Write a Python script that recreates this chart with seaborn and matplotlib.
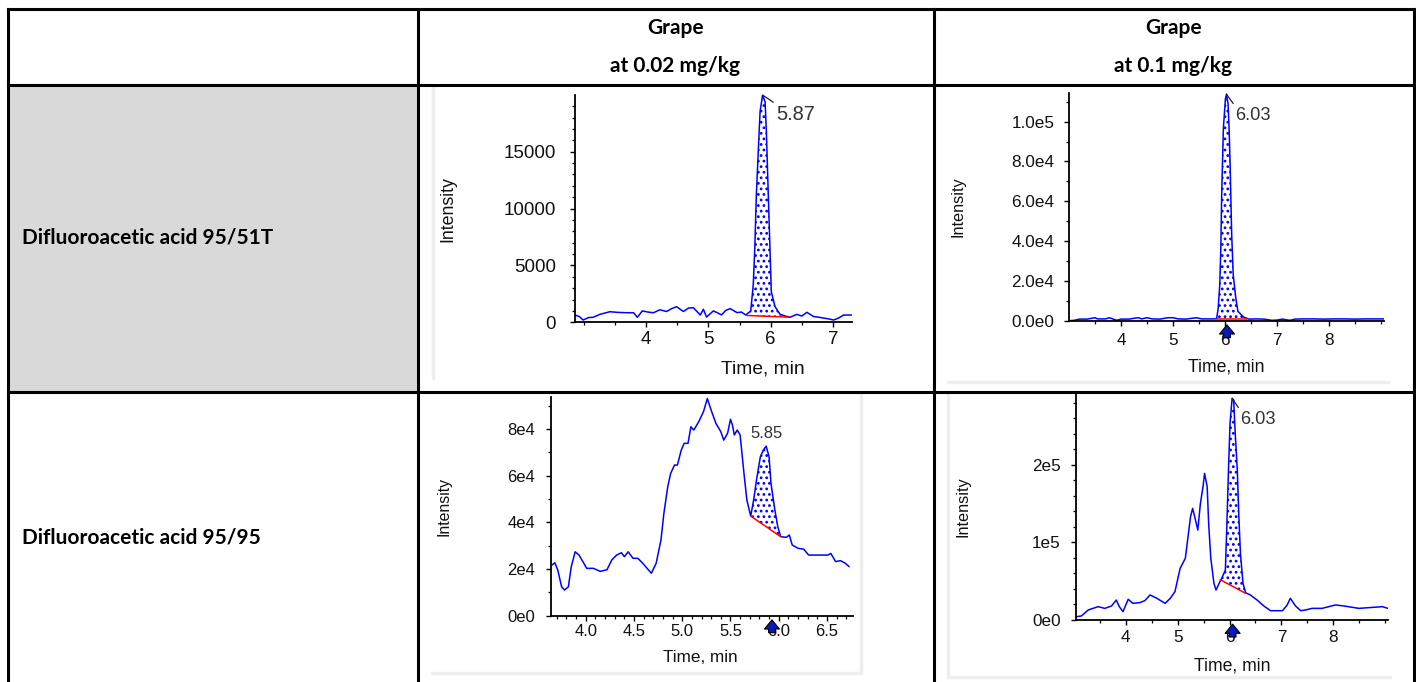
import numpy as np
import pandas as pd
import matplotlib
matplotlib.use("Agg")
import matplotlib.pyplot as plt
import seaborn as sns
from matplotlib.patches import Rectangle
from matplotlib.ticker import MultipleLocator, FixedLocator, FuncFormatter

# ---- table text ----
col_titles = ["Grape\nat 0.02 mg/kg", "Grape\nat 0.1 mg/kg"]
row_titles = ["Difluoroacetic acid 95/51T", "Difluoroacetic acid 95/95"]

# ---- 95/51T at 0.02 mg/kg ----
a_time = [2.86, 2.93, 2.99, 3.08, 3.15, 3.26, 3.42, 3.55, 3.70, 3.80, 3.86, 3.94, 4.03, 4.12, 4.22,
          4.33, 4.41, 4.49, 4.60, 4.68, 4.76, 4.87, 4.92, 4.97, 5.08, 5.14, 5.21, 5.28, 5.35, 5.46,
          5.53, 5.60, 5.68, 5.72, 5.745, 5.77, 5.81, 5.83, 5.87, 5.91, 5.93, 5.96, 5.99, 6.01, 6.07,
          6.15, 6.23, 6.31, 6.42, 6.50, 6.58, 6.69, 6.77, 6.85, 6.93, 7.01, 7.09, 7.17, 7.30]
a_int = [640, 500, 200, 420, 440, 700, 930, 870, 840, 840, 440, 1000, 900, 840, 1100,
         950, 1200, 1370, 950, 1250, 1280, 640, 1150, 460, 1000, 850, 650, 1050, 1200, 850,
         900, 640, 1000, 3280, 6500, 11200, 16180, 18540, 19990, 19400, 16900, 11490, 6200, 2690, 1370,
         700, 560, 440, 700, 550, 880, 500, 450, 370, 300, 200, 380, 640, 640]
a_base = ([5.62, 6.30], [600, 450])
a_rt = 5.87

# ---- 95/51T at 0.1 mg/kg ----
b_time = [3.01, 3.10, 3.20, 3.35, 3.50, 3.55, 3.70, 3.78, 3.85, 3.92, 4.00, 4.15, 4.33, 4.40, 4.50,
          4.60, 4.75, 4.90, 5.00, 5.10, 5.25, 5.45, 5.55, 5.70, 5.80, 5.84, 5.87, 5.90, 5.92, 5.94,
          5.97, 6.01, 6.03, 6.06, 6.08, 6.10, 6.13, 6.16, 6.21, 6.25, 6.36, 6.46, 6.60, 6.75, 6.90,
          7.00, 7.10, 7.25, 7.35, 7.50, 7.70, 7.90, 8.10, 8.30, 8.50, 8.70, 8.90, 9.06]
b_int = [0, 200, 800, 800, 1500, 900, 900, 1500, 800, 200, 800, 800, 1500, 900, 1500,
         900, 800, 1500, 1500, 900, 800, 1500, 900, 900, 900, 1000, 6200, 17900, 35500, 66500,
         96700, 111700, 113800, 109000, 96700, 78200, 43000, 23000, 11200, 4700, 1800, 800, 900, 800, 200,
         300, 800, 200, 800, 900, 900, 800, 900, 900, 800, 900, 900, 900]
b_base = ([5.84, 6.42], [800, 800])
b_rt = 6.03

# ---- 95/95 at 0.02 mg/kg ----
c_time = [3.65, 3.68, 3.71, 3.75, 3.78, 3.82, 3.85, 3.89, 3.93, 3.97, 4.01, 4.08, 4.15, 4.22, 4.27,
          4.32, 4.37, 4.40, 4.44, 4.49, 4.54, 4.59, 4.68, 4.73, 4.78, 4.81, 4.85, 4.88, 4.92, 4.95,
          4.99, 5.02, 5.06, 5.09, 5.12, 5.17, 5.22, 5.26, 5.30, 5.35, 5.40, 5.43, 5.47, 5.50, 5.52,
          5.54, 5.57, 5.60, 5.64, 5.67, 5.71, 5.74, 5.77, 5.81, 5.84, 5.87, 5.90, 5.92, 5.96, 5.99,
          6.02, 6.08, 6.11, 6.14, 6.20, 6.26, 6.31, 6.40, 6.51, 6.54, 6.59, 6.64, 6.69, 6.73]
c_int = [21700, 22700, 19600, 12400, 11000, 12400, 21000, 27400, 26000, 23200, 20300, 20300, 19000, 19700, 23900,
         26000, 27000, 25300, 27400, 24600, 24600, 22500, 18200, 22500, 32500, 43900, 55300, 61000, 64600, 64600,
         71000, 73900, 73900, 81000, 79600, 83100, 87400, 93100, 88100, 82400, 78900, 75300, 78200, 84200, 81800,
         77500, 79600, 77500, 61000, 49600, 42700, 49600, 58200, 68200, 71000, 72700, 68200, 56800, 45400, 38200,
         33900, 33600, 34600, 30300, 28900, 28500, 26000, 26000, 26000, 26700, 23200, 23600, 22500, 21000]
c_base = ([5.71, 6.02], [42700, 33900])
c_rt = 5.85

# ---- 95/95 at 0.1 mg/kg ----
d_time = [3.06, 3.15, 3.28, 3.47, 3.60, 3.73, 3.82, 3.88, 3.95, 4.05, 4.14, 4.27, 4.37, 4.47, 4.60,
          4.76, 4.86, 4.95, 5.05, 5.15, 5.25, 5.29, 5.33, 5.39, 5.44, 5.49, 5.52, 5.57, 5.60, 5.64,
          5.70, 5.74, 5.80, 5.85, 5.92, 5.95, 5.98, 6.01, 6.05, 6.08, 6.11, 6.15, 6.18, 6.21, 6.26,
          6.31, 6.40, 6.53, 6.66, 6.79, 7.02, 7.11, 7.17, 7.27, 7.37, 7.46, 7.59, 7.78, 8.04, 8.20,
          8.49, 8.94, 9.05]
d_int = [4300, 5200, 12900, 17200, 15000, 18100, 25800, 17200, 10800, 26700, 21500, 22400, 24900, 32300, 28000,
         21500, 28000, 36600, 66700, 79600, 133300, 144000, 133300, 116100, 150500, 172000, 189200, 172000, 122500, 79600,
         47300, 38700, 47300, 53800, 64500, 124700, 193500, 253800, 286000, 283800, 240800, 193500, 133300, 86000, 47300,
         35200, 32300, 25800, 18100, 12000, 12000, 19400, 28000, 18100, 12000, 12900, 15000, 15000, 19400, 18100,
         15000, 17200, 15000]
d_base = ([5.82, 6.31], [52000, 34400])
d_rt = 6.03

sns.set_theme(style="ticks")
plt.rcParams["font.family"] = ["Liberation Sans", "DejaVu Sans"]
plt.rcParams["hatch.linewidth"] = 1.2

W, H = 1416, 682
fig = plt.figure(figsize=(W / 100, H / 100), dpi=100)

# table drawn in pixel coordinates
bg = fig.add_axes([0, 0, 1, 1], zorder=-5)
bg.set_xlim(0, W)
bg.set_ylim(H, 0)
bg.axis("off")
bg.add_patch(Rectangle((9, 85.5), 408, 305, color="#d9d9d9", lw=0))
# faint frames of the pasted chromatogram pictures
frame_kw = dict(color="#eeeeee", lw=2.5)
bg.plot([433, 433], [86, 378], **frame_kw)
bg.plot([948, 1388], [382, 382], **frame_kw)
bg.plot([432, 861, 861], [673, 673, 392], **frame_kw)
bg.plot([948, 948, 1390], [392, 677, 677], **frame_kw)
line_kw = dict(color="black", lw=2.2, solid_capstyle="projecting")
for yy in [9, 84.5, 391.5]:
    bg.plot([8, 1414], [yy, yy], **line_kw)
for xx in [8, 417.5, 933.5, 1414]:
    bg.plot([xx, xx], [9, 682], **line_kw)

tfont = dict(family=["Lato", "DejaVu Sans"], fontweight="bold", fontsize=15, color="black")
for cx, title in zip([675.5, 1173.5], col_titles):
    top, bottom = title.split("\n")
    bg.text(cx, 28, top, ha="center", va="center", **tfont)
    bg.text(cx, 66, bottom, ha="center", va="center", **tfont)
for cy, title in zip([238, 537], row_titles):
    bg.text(22, cy, title, ha="left", va="center", **tfont)


def sci_fmt(digits):
    def f(v, pos):
        if v == 0:
            mant, ex = 0.0, 0
        else:
            ex = int(np.floor(np.log10(abs(v)) + 1e-9))
            mant = v / 10 ** ex
        return f"{mant:.{digits}f}e{ex}"
    return FuncFormatter(f)


panels = [
    dict(t=a_time, v=a_int, base=a_base, rt=a_rt, box=(575, 95, 851.7, 322.3),
         xlim=(2.86, 7.30), ylim=(0, 19990), xmaj=[4, 5, 6, 7], xmin=0.5, ymaj=[0, 5000, 10000, 15000],
         ymin=1000, yfmt=FuncFormatter(lambda v, p: f"{v:.0f}"), xfmt=FuncFormatter(lambda v, p: f"{v:.0f}"),
         fs=13.5, ylab=(-0.43, 0.5), xlab=(0.679, -0.166), ypad=10, xpad=2.5,
         lab_off=(14, -19), leader=True, arrow=None),
    dict(t=b_time, v=b_int, base=b_base, rt=b_rt, box=(1069.3, 93, 1384, 320.7),
         xlim=(3.006, 9.06), ylim=(0, 114400), xmaj=[4, 5, 6, 7, 8], xmin=0.5,
         ymaj=[0, 20000, 40000, 60000, 80000, 100000], ymin=10000, yfmt=sci_fmt(1),
         xfmt=FuncFormatter(lambda v, p: f"{v:.0f}"),
         fs=12.3, ylab=(-0.331, 0.5), xlab=(0.5, -0.164), ypad=7.2, xpad=5.0,
         lab_off=(9, -21), leader=True, arrow=6.04),
    dict(t=c_time, v=c_int, base=c_base, rt=c_rt, box=(551, 396.7, 853, 615.7),
         xlim=(3.64, 6.77), ylim=(0, 93900), xmaj=[4.0, 4.5, 5.0, 5.5, 6.0, 6.5], xmin=0.1,
         ymaj=[0, 20000, 40000, 60000, 80000], ymin=10000, yfmt=sci_fmt(0),
         xfmt=FuncFormatter(lambda v, p: f"{v:.1f}"),
         fs=12.0, ylab=(-0.328, 0.5), xlab=(0.496, -0.157), ypad=8.0, xpad=2.5,
         lab_off=(0, 13), leader=False, arrow=5.93),
    dict(t=d_time, v=d_int, base=d_base, rt=d_rt, box=(1075.7, 394, 1388, 620),
         xlim=(3.04, 9.05), ylim=(0, 291600), xmaj=[4, 5, 6, 7, 8], xmin=0.5,
         ymaj=[0, 100000, 200000], ymin=20000, yfmt=sci_fmt(0),
         xfmt=FuncFormatter(lambda v, p: f"{v:.0f}"),
         fs=12.3, ylab=(-0.338, 0.5), xlab=(0.5, -0.164), ypad=7.2, xpad=3.5,
         lab_off=(8.5, -21), leader=True, arrow=6.06),
]

for p in panels:
    l, t, r, b = p["box"]
    ax = fig.add_axes([l / W, 1 - b / H, (r - l) / W, (b - t) / H])
    ax.patch.set_alpha(0)
    df = pd.DataFrame({"time": p["t"], "intensity": p["v"]})
    sns.lineplot(data=df, x="time", y="intensity", ax=ax, color="#0000ff", lw=1.1, estimator=None)

    # integrated peak: dotted area between trace and red baseline
    (b0, b1), (v0, v1) = p["base"]
    tt = np.array(p["t"])
    vv = np.array(p["v"])
    win = (tt > b0) & (tt < b1)
    fx = np.concatenate([[b0], tt[win], [b1]])
    fy = np.interp(fx, p["t"], p["v"])
    fb = np.interp(fx, [b0, b1], [v0, v1])
    ax.fill_between(fx, fy, fb, where=fy >= fb, interpolate=True, facecolor="none",
                    edgecolor="#0000ff", hatch="...", linewidth=0)
    ax.plot([b0, b1], [v0, v1], color="#ff0000", lw=1.1)

    ax.set_xlim(*p["xlim"])
    ax.set_ylim(*p["ylim"])
    ax.xaxis.set_major_locator(FixedLocator(p["xmaj"]))
    ax.xaxis.set_minor_locator(MultipleLocator(p["xmin"]))
    ax.yaxis.set_major_locator(FixedLocator(p["ymaj"]))
    ax.yaxis.set_minor_locator(MultipleLocator(p["ymin"]))
    ax.xaxis.set_major_formatter(p["xfmt"])
    ax.yaxis.set_major_formatter(p["yfmt"])
    ax.tick_params(which="major", length=3.5, width=1, direction="out", color="black",
                   labelsize=p["fs"], labelcolor="#111111")
    ax.tick_params(which="minor", length=2, width=0.9, direction="out", color="black")
    ax.tick_params(axis="y", which="major", pad=p["ypad"])
    ax.tick_params(axis="x", which="major", pad=p["xpad"])
    sns.despine(ax=ax)
    for s in ["left", "bottom"]:
        ax.spines[s].set_color("black")
        ax.spines[s].set_linewidth(1.3)

    ax.set_ylabel("Intensity", fontsize=p["fs"] * 0.95, color="#111111")
    ax.set_xlabel("Time, min", fontsize=p["fs"] * 1.03, color="#111111", va="top")
    ax.yaxis.set_label_coords(*p["ylab"])
    ax.xaxis.set_label_coords(*p["xlab"])

    # retention time label at the apex of the integrated peak
    k = int(np.argmax(np.where(win, vv, -1)))
    apex = (tt[k], vv[k])
    if p["leader"]:
        ax.annotate(f"{p['rt']:.2f}", xy=apex, xytext=p["lab_off"], textcoords="offset pixels",
                    ha="left", va="center", fontsize=p["fs"] * 1.07, color="#333333",
                    arrowprops=dict(arrowstyle="-", color="#222222", lw=0.9, relpos=(0, 1),
                                    shrinkA=0, shrinkB=0),
                    annotation_clip=False)
    else:
        ax.annotate(f"{p['rt']:.2f}", xy=apex, xytext=p["lab_off"],
                    textcoords="offset pixels", ha="center", va="center",
                    fontsize=p["fs"] * 1.0, color="#333333", annotation_clip=False)

    # expected retention time marker under the axis
    if p["arrow"] is not None:
        ax.annotate("", xy=(p["arrow"], 0), xytext=(0, -17), textcoords="offset pixels",
                    arrowprops=dict(arrowstyle="simple,head_length=0.55,head_width=0.9,tail_width=0.4",
                                    fc="#0a1ab8", ec="black", lw=0.8, shrinkA=0, shrinkB=3),
                    annotation_clip=False)

fig.savefig("out.png", dpi=100)
